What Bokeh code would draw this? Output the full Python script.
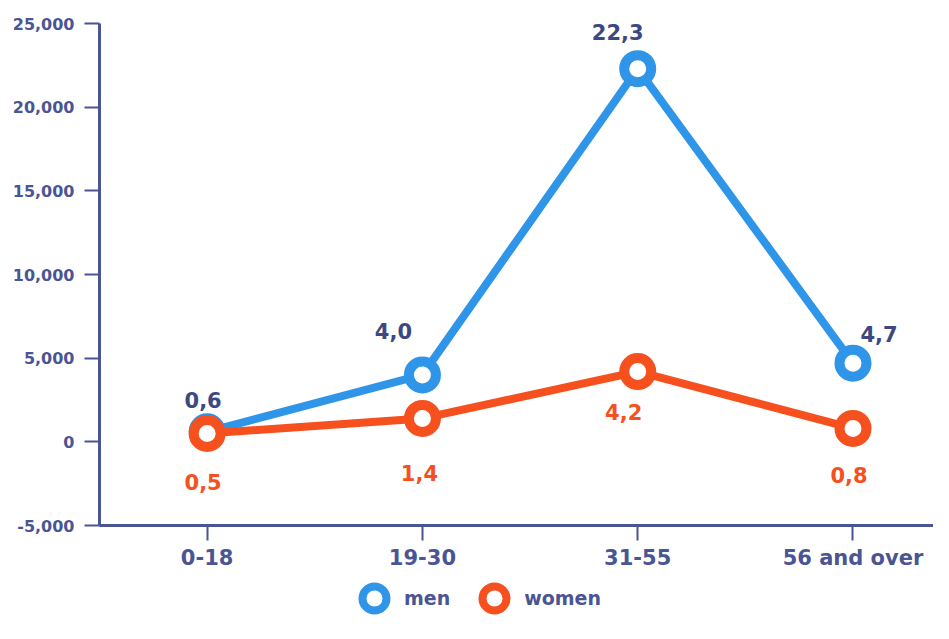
from bokeh.plotting import figure
from bokeh.layouts import column
from bokeh.models import (ColumnDataSource, LabelSet, Legend, LegendItem,
                          FixedTicker, NumeralTickFormatter, Range1d)
from bokeh.core.properties import value
from bokeh.embed import file_html
from bokeh.resources import INLINE

categories = ["0-18", "19-30", "31-55", "56 and over"]
men = [600, 4000, 22300, 4700]
women = [500, 1400, 4200, 800]
men_labels = ["0,6", "4,0", "22,3", "4,7"]
women_labels = ["0,5", "1,4", "4,2", "0,8"]
y_ticks = [-5000, 0, 5000, 10000, 15000, 20000, 25000]
series_names = ["men", "women"]

# label offsets in screen pixels
men_dx = [-4, -29, -20, 26]
men_dy = [32, 44, 37, 29]
women_dx = [-4, -3, -14, -4]
women_dy = [-49, -55, -40, -47]

BLUE = "#2f95e8"
ORANGE = "#f5501e"
NAVY = "#4a5593"
FONT = "DejaVu Sans"

xs = list(range(len(categories)))
men_src = ColumnDataSource(dict(x=xs, y=men, t=men_labels, dx=men_dx, dy=men_dy))
women_src = ColumnDataSource(dict(x=xs, y=women, t=women_labels, dx=women_dx, dy=women_dy))

p = figure(width=933, height=572, output_backend="svg", toolbar_location=None,
           x_range=Range1d(-0.5, 3.374), y_range=Range1d(-5000, 25000),
           min_border_left=99, min_border_top=23, min_border_bottom=47,
           min_border_right=0)
p.outline_line_color = None
p.grid.visible = False
p.background_fill_color = "white"

marker_kw = dict(size=27, fill_color="white", line_width=10)
p.line("x", "y", source=men_src, line_color=BLUE, line_width=8)
p.scatter("x", "y", source=men_src, line_color=BLUE, **marker_kw)
p.line("x", "y", source=women_src, line_color=ORANGE, line_width=8)
p.scatter("x", "y", source=women_src, line_color=ORANGE, **marker_kw)

for ax in (p.xaxis[0], p.yaxis[0]):
    ax.axis_line_color = NAVY
    ax.axis_line_width = 3
    ax.major_tick_line_color = NAVY
    ax.major_tick_line_width = 2
    ax.major_tick_out = 15
    ax.major_tick_in = 0
    ax.minor_tick_line_color = None
    ax.major_label_text_color = NAVY
    ax.major_label_text_font = FONT
    ax.major_label_text_font_style = "bold"

p.yaxis.ticker = FixedTicker(ticks=y_ticks)
p.yaxis.formatter = NumeralTickFormatter(format="0,0")
p.yaxis.major_label_text_font_size = "16px"
p.yaxis.major_label_standoff = 10

p.xaxis.ticker = FixedTicker(ticks=xs)
p.xaxis.major_label_overrides = {i: c for i, c in enumerate(categories)}
p.xaxis.major_label_text_font_size = "21px"
p.xaxis.major_label_standoff = 5

p.add_layout(LabelSet(x="x", y="y", text="t", source=men_src, x_offset="dx", y_offset="dy",
                      text_align="center", text_baseline="middle", text_color="#3d4883",
                      text_font=value(FONT), text_font_size="21px", text_font_style="bold"))
p.add_layout(LabelSet(x="x", y="y", text="t", source=women_src, x_offset="dx", y_offset="dy",
                      text_align="center", text_baseline="middle", text_color=ORANGE,
                      text_font=value(FONT), text_font_size="21px", text_font_style="bold"))

# legend strip below the chart (series glyphs re-used, kept out of its view)
lg = figure(width=933, height=51, output_backend="svg", toolbar_location=None,
            x_axis_type=None, y_axis_type=None, min_border=0,
            x_range=Range1d(100, 101), y_range=Range1d(-1e6, -1e6 + 1))
lg.outline_line_color = None
lg.grid.visible = False
proxies = [lg.scatter("x", "y", source=s, line_color=c, size=27, fill_color="white",
                      line_width=8)
           for s, c in ((men_src, BLUE), (women_src, ORANGE))]

legend = Legend(items=[LegendItem(label=n, renderers=[r]) for n, r in zip(series_names, proxies)],
                location=(245, -5), orientation="horizontal",
                glyph_width=60, glyph_height=60, label_standoff=-6, spacing=14,
                padding=0, margin=0, border_line_alpha=0, background_fill_alpha=0,
                label_text_font=FONT, label_text_font_size="19px",
                label_text_font_style="bold", label_text_color=NAVY)
lg.add_layout(legend, "center")

layout = column(p, lg, spacing=0)
open("out.html", "w").write(file_html(layout, INLINE))
